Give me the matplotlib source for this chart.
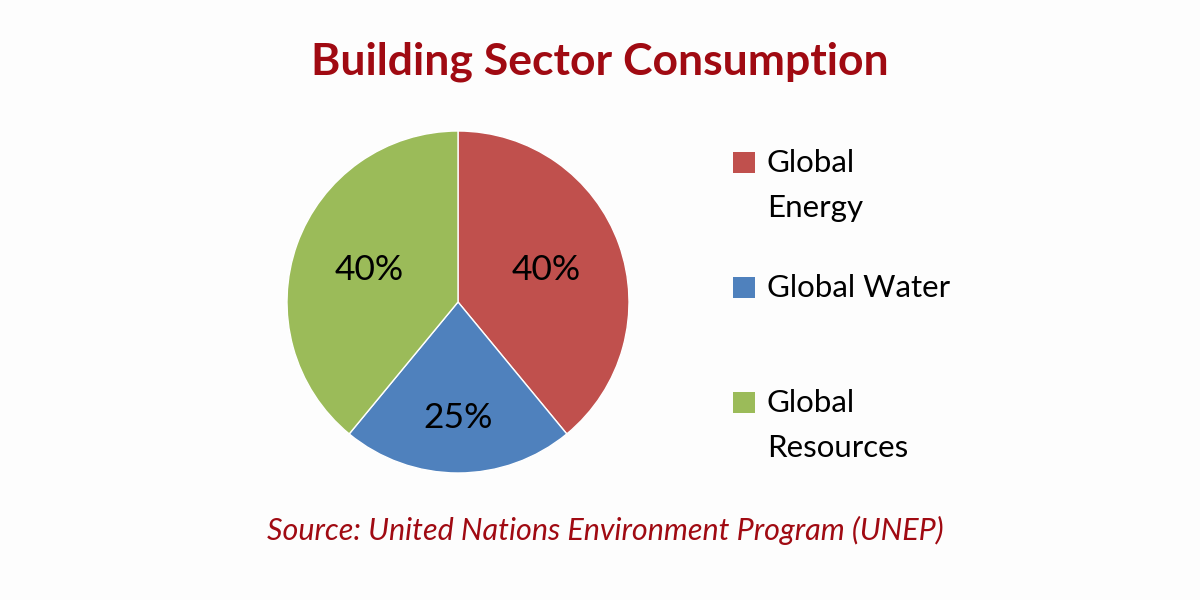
import numpy as np
import matplotlib.pyplot as plt
from matplotlib.patches import Rectangle

# data
categories = ['Global Energy', 'Global Water', 'Global Resources']
legend_lines = [['Global', 'Energy'], ['Global Water'], ['Global', 'Resources']]
# wedge sizes as drawn (angles), and the labels printed on them
sizes = [40, 22.5, 40]
pct_labels = ['40%', '25%', '40%']
colors = ['#C0504D', '#4F81BD', '#9BBB59']

title = 'Building Sector Consumption'
source = 'Source: United Nations Environment Program (UNEP)'

dark_red = '#A00A12'
font = 'Lato'

fig = plt.figure(figsize=(12, 6), dpi=100)
fig.patch.set_facecolor('#FDFDFD')

W, H = 1200, 600
cx, cy, r = 458, 302, 171
ax = fig.add_axes([(cx - r) / W, (H - cy - r) / H, 2 * r / W, 2 * r / H])
wedges, _ = ax.pie(sizes, colors=colors, startangle=90, counterclock=False,
                   wedgeprops=dict(edgecolor='white', linewidth=1))
ax.set_xlim(-1, 1)
ax.set_ylim(-1, 1)
ax.set_aspect('equal')
ax.axis('off')

# percent labels inside the wedges
dists = [0.55, 0.68, 0.55]
for w, lab, d in zip(wedges, pct_labels, dists):
    ang = np.deg2rad((w.theta1 + w.theta2) / 2)
    ax.text(d * np.cos(ang), d * np.sin(ang), lab, ha='center', va='center',
            fontsize=25.5, family=font, color='black')

# title and source
fig.text(600 / W, 1 - 62 / H, title, ha='center', va='center', fontsize=32,
         fontweight='bold', family=font, color=dark_red)
fig.text(605 / W, 1 - 530 / H, source, ha='center', va='center', fontsize=22,
         style='italic', family=font, color=dark_red)

# legend drawn by hand (squares line up with the first text line)
entry_y = [163, 288, 403]
line_gap = 45
for lines, col, y in zip(legend_lines, colors, entry_y):
    fig.patches.append(Rectangle((733 / W, 1 - (y + 10) / H), 22 / W, 21 / H,
                                 transform=fig.transFigure, facecolor=col,
                                 edgecolor='none'))
    for i, t in enumerate(lines):
        fig.text(767 / W, 1 - (y + i * line_gap) / H, t, ha='left', va='center',
                 fontsize=22.5, family=font, color='black')

fig.savefig('out.png', dpi=100, facecolor=fig.get_facecolor())
